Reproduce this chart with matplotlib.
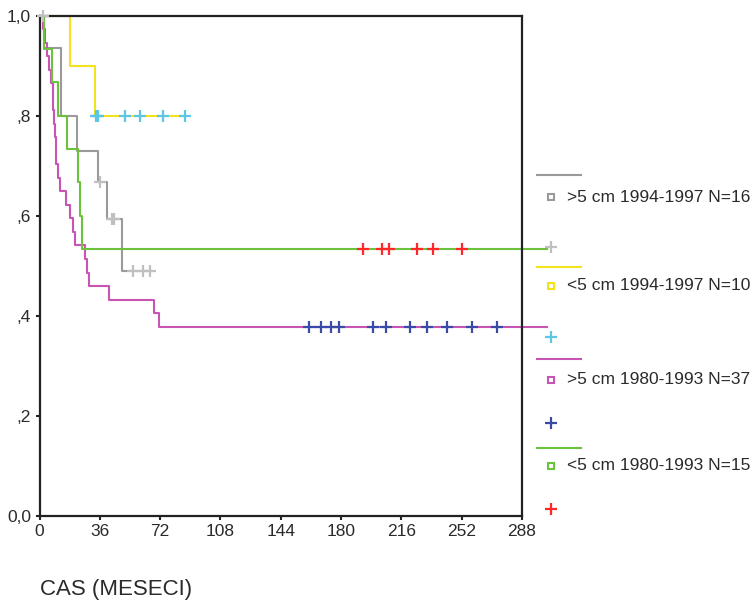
import numpy as np
import matplotlib
matplotlib.use("Agg")
import matplotlib.pyplot as plt
from matplotlib.lines import Line2D

plt.rcParams['font.family'] = ['Liberation Sans', 'DejaVu Sans']

# podatki (odčitano s slike) - casi v mesecih, prezivetje
grupe = [">5 cm 1994-1997 N=16", "<5 cm 1994-1997 N=10",
         ">5 cm 1980-1993 N=37", "<5 cm 1980-1993 N=15"]

siva_t = [0, 2.5, 13, 22.5, 35, 40, 49, 67]
siva_s = [1.0, 0.935, 0.80, 0.73, 0.667, 0.594, 0.49, 0.49]
siva_cens = [2, 36, 43, 44.5, 56, 61.5, 66]

rumena_t = [0, 18, 33, 87]
rumena_s = [1.0, 0.9, 0.8, 0.8]
rumena_cens = [34, 34.6, 35.2, 51, 60, 74, 87]

vijol_t = [0, 1.8, 3.0, 4.2, 5.4, 6.6, 7.8, 8.3, 8.9, 9.5, 9.8, 10.1, 11.3,
           12.5, 16.1, 18.5, 19.7, 20.9, 27.4, 28.6, 29.8, 41.7, 68.6, 71.6, 303]
vijol_s = [1.0, 0.973, 0.946, 0.919, 0.892, 0.865, 0.838, 0.811, 0.784, 0.757,
           0.730, 0.703, 0.676, 0.649, 0.622, 0.595, 0.568, 0.541, 0.514, 0.486,
           0.459, 0.432, 0.405, 0.378, 0.378]
vijol_cens = [161, 168, 174, 179, 199, 207, 221, 231, 243, 258, 273]

zelena_t = [0, 2.4, 7.2, 11.3, 16.7, 22.7, 23.9, 25.6, 303]
zelena_s = [1.0, 0.933, 0.867, 0.8, 0.733, 0.667, 0.6, 0.533, 0.533]
zelena_cens = [193, 204.5, 208.7, 225.4, 235, 252]

xticks = [0, 36, 72, 108, 144, 180, 216, 252, 288]
yticks = [0.0, 0.2, 0.4, 0.6, 0.8, 1.0]
ylabels = ["0,0", ",2", ",4", ",6", ",8", "1,0"]

barve_crt = ["#9a9a9a", "#f2e41c", "#c855b5", "#6cc23c"]
barve_cens = ["#c0c0c0", "#5cc6e4", "#3b4aa6", "#ff2828"]
tekst = "#2a2a2a"

W, H = 756, 603
fig = plt.figure(figsize=(W / 100, H / 100), dpi=100)
ax = fig.add_axes([39.5 / W, (H - 515.5) / H, (522 - 39.5) / W, (515.5 - 16) / H])


def pri(t_list, s_list, t):
    i = np.searchsorted(t_list, t, side='right') - 1
    return s_list[i]


podatki = [(siva_t, siva_s, siva_cens), (rumena_t, rumena_s, rumena_cens),
           (vijol_t, vijol_s, vijol_cens), (zelena_t, zelena_s, zelena_cens)]

for k, (t, s, c) in enumerate(podatki):
    ax.step(t, s, where='post', color=barve_crt[k], lw=1.5, clip_on=False, zorder=2 + k * 0.1)
    cy = [pri(t, s, x) for x in c]
    ax.plot(c, cy, '+', color=barve_cens[k], ms=8, mew=1.6, clip_on=False, zorder=4)

ax.set_xlim(0, 288)
ax.set_ylim(0, 1.0)
ax.set_xticks(xticks)
ax.set_xticklabels([str(x) for x in xticks])
ax.set_yticks(yticks)
ax.set_yticklabels(ylabels)
ax.tick_params(direction='out', length=3, width=1.5, color='#222222',
               labelsize=12.5, labelcolor=tekst, pad=3)
for sp in ax.spines.values():
    sp.set_linewidth(1.6)
    sp.set_color('#222222')

# legenda
crta_y = [175, 267, 359, 448]
kvad_y = [197, 286, 380, 466]
plus_y = [247, 337, 423, 509]
for k in range(4):
    fy = (H - crta_y[k]) / H
    fig.add_artist(Line2D([537 / W, 581 / W], [fy, fy], color=barve_crt[k], lw=1.5,
                          transform=fig.transFigure))
    fy = (H - kvad_y[k]) / H
    fig.add_artist(Line2D([551 / W], [fy], marker='s', ms=5, mfc='none', mec=barve_crt[k],
                          mew=1.5, ls='none', transform=fig.transFigure))
    fig.text(567 / W, fy, grupe[k], fontsize=12.5, color=tekst, ha='left', va='center')
    fy = (H - plus_y[k]) / H
    fig.add_artist(Line2D([551 / W], [fy], marker='+', ms=8, mec=barve_cens[k],
                          mew=1.6, ls='none', transform=fig.transFigure))

fig.text(40 / W, (H - 590) / H, "CAS (MESECI)", fontsize=16, color=tekst,
         ha='left', va='center')

fig.savefig("out.png", dpi=100)
